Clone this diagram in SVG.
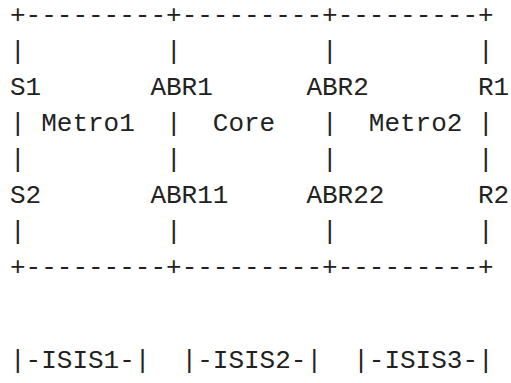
<svg xmlns="http://www.w3.org/2000/svg" width="511" height="383" viewBox="0 0 511 383">
<style>
text{font-family:"Liberation Mono","DejaVu Sans Mono",monospace;font-size:26px;fill:#222;white-space:pre}
</style>
<rect width="511" height="383" fill="#fff"/>
<g id="connectors" xml:space="preserve">
<text x="10" y="23">+---------+---------+---------+</text>
<text x="10" y="59">|         |         |         |</text>
<text x="10" y="131">|</text>
<text x="166" y="131">|</text>
<text x="322" y="131">|</text>
<text x="478" y="131">|</text>
<text x="10" y="167">|         |         |         |</text>
<text x="10" y="239">|         |         |         |</text>
<text x="10" y="275">+---------+---------+---------+</text>
</g>
<g id="S1"><text x="10" y="95">S1</text></g>
<g id="ABR1"><text x="150.4" y="95">ABR1</text></g>
<g id="ABR2"><text x="306.4" y="95">ABR2</text></g>
<g id="R1"><text x="478" y="95">R1</text></g>
<g id="Metro1"><text x="41.2" y="131">Metro1</text></g>
<g id="Core"><text x="212.8" y="131">Core</text></g>
<g id="Metro2"><text x="368.8" y="131">Metro2</text></g>
<g id="S2"><text x="10" y="203">S2</text></g>
<g id="ABR11"><text x="150.4" y="203">ABR11</text></g>
<g id="ABR22"><text x="306.4" y="203">ABR22</text></g>
<g id="R2"><text x="478" y="203">R2</text></g>
<g id="ISIS1"><text x="10" y="368">|-ISIS1-|</text></g>
<g id="ISIS2"><text x="181.6" y="368">|-ISIS2-|</text></g>
<g id="ISIS3"><text x="353.2" y="368">|-ISIS3-|</text></g>
</svg>
